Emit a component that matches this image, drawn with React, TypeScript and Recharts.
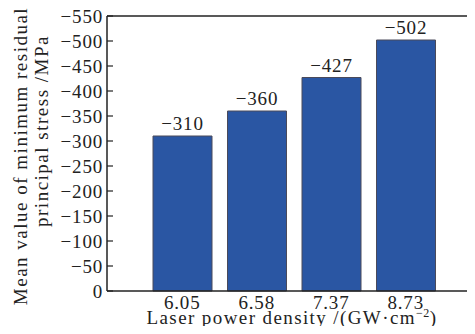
import React from 'react';
import { BarChart, Bar, XAxis, YAxis, LabelList, ReferenceLine, Label } from 'recharts';

const densities = ['6.05', '6.58', '7.37', '8.73'];
const stressValues = [-310, -360, -427, -502];
const stressTicks = [-550, -500, -450, -400, -350, -300, -250, -200, -150, -100, -50, 0];

const data = densities.map((d, i) => ({ density: d, stress: stressValues[i] }));

const FONT = '"Liberation Serif", "Times New Roman", serif';
const INK = '#222';
const SIZE = 19;
const TICK_BASELINE = 309;
const minus = (v: number) => (v < 0 ? '\u2212' + Math.abs(v) : String(v));

// y ticks point into the plot, labels sit to the left of the axis
function StressTick(props: any) {
  const { x, y, payload } = props;
  return (
    <g>
      <line x1={x + 4} x2={x + 10} y1={y} y2={y} stroke={INK} strokeWidth={1.2} />
      <text x={x} y={y} dy={6.5} textAnchor="end" fontFamily={FONT} fontSize={SIZE} letterSpacing={0.8} fill={INK}>
        {minus(payload.value)}
      </text>
    </g>
  );
}

function DensityTick(props: any) {
  const { x, payload } = props;
  return (
    <text x={x} y={TICK_BASELINE} textAnchor="middle" fontFamily={FONT} fontSize={SIZE} letterSpacing={0.8} fill={INK}>
      {payload.value}
    </text>
  );
}

function ValueLabel(props: any) {
  const { x, y, width, height, value } = props;
  const top = Math.min(y, y + height);
  return (
    <text x={x + width / 2} y={top - 6} textAnchor="middle" fontFamily={FONT} fontSize={SIZE} letterSpacing={0.8} fill={INK}>
      {minus(value)}
    </text>
  );
}

export default function App() {
  return (
    <div style={{ margin: -8, width: 475, height: 334, overflow: 'hidden', background: '#fff' }}>
      <BarChart
        width={480}
        height={334}
        data={data}
        margin={{ top: 16, right: 0, bottom: 3, left: 7 }}
        barCategoryGap={0}
      >
        <XAxis
          dataKey="density"
          height={40}
          padding={{ left: 38, right: 37 }}
          tickLine={false}
          tickSize={0}
          tickMargin={0}
          tick={<DensityTick />}
          axisLine={{ stroke: INK, strokeWidth: 1.5 }}
        >
          <Label
            content={() => (
              <text x={292} y={324} textAnchor="middle" fontFamily={FONT} fontSize={SIZE} letterSpacing={1.4} fill={INK}>
                Laser power density /(GW·cm
                <tspan dy={-7} fontSize={12} letterSpacing={0.5}>−2</tspan>
                <tspan dy={7}>)</tspan>
              </text>
            )}
          />
        </XAxis>
        <YAxis
          width={100}
          domain={[-550, 0]}
          ticks={stressTicks}
          reversed
          interval={0}
          tickSize={0}
          tickMargin={4}
          tick={<StressTick />}
          axisLine={{ stroke: INK, strokeWidth: 1.5 }}
        >
          <Label
            content={() => (
              <g fontFamily={FONT} fontSize={SIZE} fill={INK} letterSpacing={1.5}>
                <text transform="translate(27,156) rotate(-90)" textAnchor="middle">
                  Mean value of minimum residual
                </text>
                <text transform="translate(48,131) rotate(-90)" textAnchor="middle">
                  principal stress /MPa
                </text>
              </g>
            )}
          />
        </YAxis>
        <ReferenceLine y={-550} stroke={INK} strokeWidth={1.5} />
        <Bar dataKey="stress" fill="#2a56a3" stroke="#4a4a5a" strokeWidth={1} barSize={59} isAnimationActive={false}>
          <LabelList dataKey="stress" content={<ValueLabel />} />
        </Bar>
      </BarChart>
    </div>
  );
}
